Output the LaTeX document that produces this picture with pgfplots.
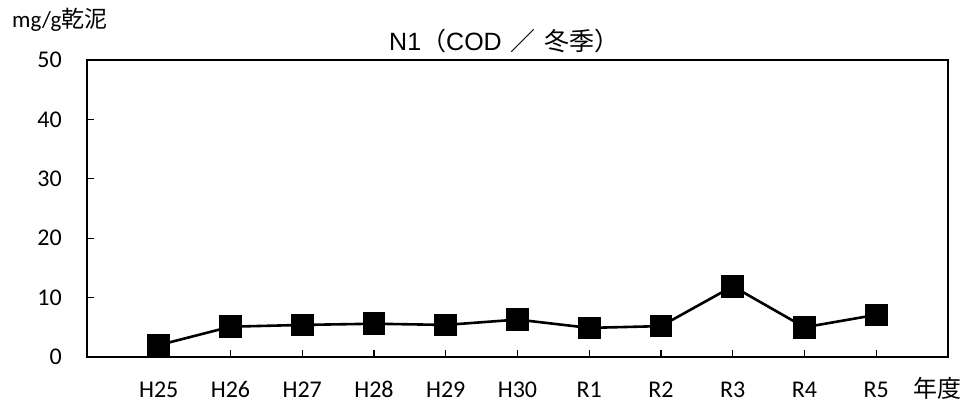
\documentclass[border=0pt]{standalone}
\usepackage{pgfplots}
\pgfplotsset{compat=1.18}
\usepackage{fontspec}
\setmainfont{Carlito}
\newfontfamily\jp{Noto Sans CJK JP}
\newfontfamily\arial{Liberation Sans}
\begin{document}
\begin{tikzpicture}
\begin{axis}[
  scale only axis,
  width=861pt, height=297pt,
  xmin=0, xmax=12, ymin=0, ymax=50,
  xtick={1,...,11},
  xticklabels={H25,H26,H27,H28,H29,H30,R1,R2,R3,R4,R5},
  extra x ticks={11.85},
  extra x tick labels={{\jp 年度}},
  extra x tick style={major tick length=0pt},
  ytick={0,10,...,50},
  tick align=inside,
  major tick length=7pt,
  xtick pos=bottom, ytick pos=left,
  axis line style={line width=1.6pt},
  every tick/.style={black, line width=1.2pt},
  /pgf/number format/assume math mode=true,
  tick label style={font=\fontsize{24}{27}\selectfont},
  xticklabel style={inner sep=0pt, anchor=north, text height=15pt, text depth=0pt, yshift=-25pt},
  yticklabel style={inner sep=0pt, anchor=east, xshift=-25pt},
  clip=false,
]
\addplot[black, line width=2.6pt, mark=square*, mark size=10pt, mark options={solid, fill=black}]
  coordinates {(1,2.0) (2,5.1) (3,5.4) (4,5.6) (5,5.4) (6,6.3) (7,4.9) (8,5.2) (9,11.9) (10,5.0) (11,7.1)};
\node[font=\fontsize{25}{28}\selectfont, anchor=center] at ([xshift=-13pt, yshift=19pt]rel axis cs:0.5,1) {{\arial N1}{\jp （}{\arial COD}\kern9pt{\jp ／}\kern9pt{\jp 冬季）}};
\node[font=\fontsize{23}{25}\selectfont, anchor=west, inner sep=0pt] at ([xshift=-75pt, yshift=40pt]rel axis cs:0,1) {mg/g{\jp 乾泥}};
\coordinate (bl) at (rel axis cs:0,0);
\coordinate (tr) at (rel axis cs:1,1);
\end{axis}
\pgfresetboundingbox
\path ([xshift=-87pt, yshift=-53pt]bl) rectangle ([xshift=19pt, yshift=60pt]tr);
\end{tikzpicture}
\end{document}
